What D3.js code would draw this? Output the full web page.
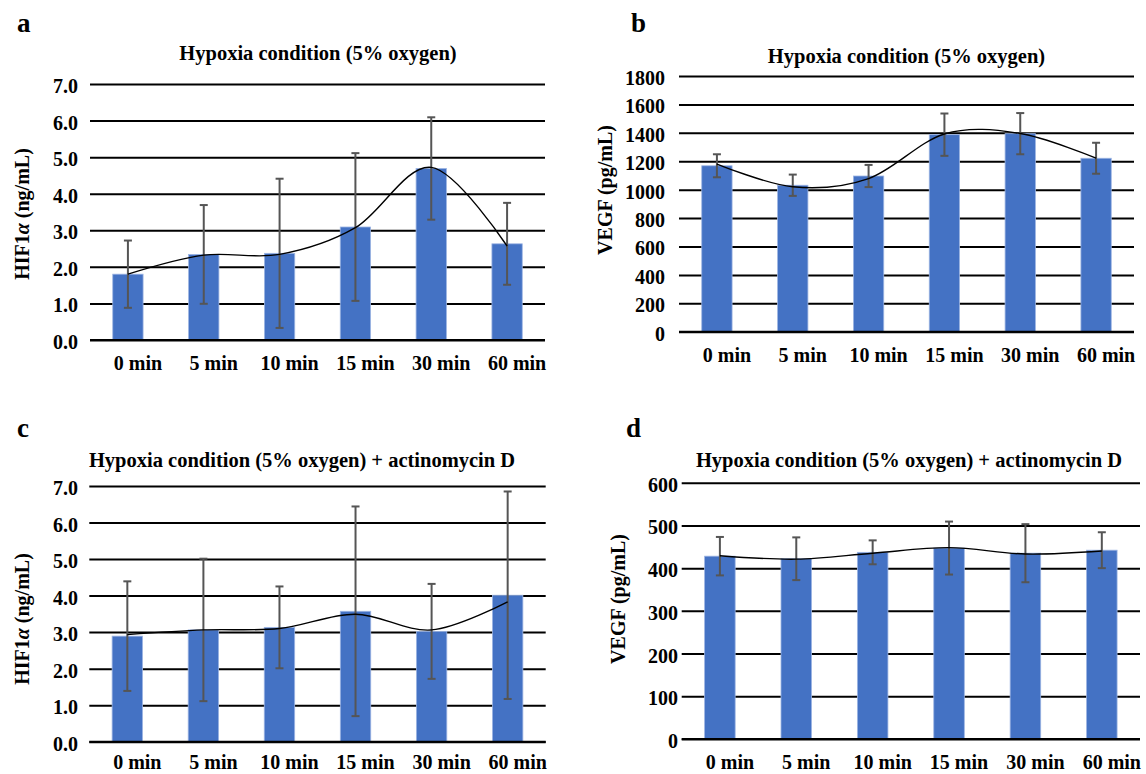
<!DOCTYPE html>
<html>
<head>
<meta charset="utf-8">
<script src="https://cdn.jsdelivr.net/npm/d3@7"></script>
<style>
  html, body { margin: 0; padding: 0; background: #fff; }
  svg text { font-family: "Liberation Serif", "Times New Roman", serif; font-weight: bold; fill: #000; }
</style>
</head>
<body>
<svg id="chart" width="1146" height="774"></svg>
<script>
// ---------- data ----------
const categories = ["0 min", "5 min", "10 min", "15 min", "30 min", "60 min"];

const hifHypoxia     = [1.80, 2.34, 2.37, 3.09, 4.69, 2.63];
const hifHypoxiaErr  = [0.92, 1.35, 2.04, 2.02, 1.40, 1.12];
const hifHypoxiaLine = [1.80, 2.32, 2.34, 3.07, 4.72, 2.57];

const vegfHypoxia     = [1168, 1031, 1096, 1387, 1394, 1221];
const vegfHypoxiaErr  = [81, 75, 78, 149, 145, 109];
const vegfHypoxiaLine = [1180, 1020, 1078, 1392, 1395, 1222];

const hifActD     = [2.89, 3.06, 3.13, 3.57, 3.02, 4.01];
const hifActDErr  = [1.50, 1.95, 1.12, 2.87, 1.30, 2.84];
const hifActDLine = [2.93, 3.06, 3.10, 3.49, 3.06, 3.83];

const vegfActD     = [428, 422, 437, 447, 435, 442];
const vegfActDErr  = [45, 50, 28, 62, 68, 42];
const vegfActDLine = [429, 421, 435, 448, 433, 440];

const hifTicks   = [0, 1, 2, 3, 4, 5, 6, 7];
const vegfTicksB = [0, 200, 400, 600, 800, 1000, 1200, 1400, 1600, 1800];
const vegfTicksD = [0, 100, 200, 300, 400, 500, 600];

const titleHypoxia = "Hypoxia condition (5% oxygen)";
const titleActD = "Hypoxia condition (5% oxygen) + actinomycin D";

// ---------- layout ----------
const panels = [
  { letter: "a", values: hifHypoxia, errs: hifHypoxiaErr, line: hifHypoxiaLine, ticks: hifTicks, fmt: d3.format(".1f"),
    title: titleHypoxia, yLabel: "hif",
    left: 90, right: 545, top: 84, bottom: 340, tickRight: 78,
    titleX: 318, titleY: 60, yTitleX: 22, yTitleY: 214, letterX: 17, letterY: 32, xLabelY: 370 },
  { letter: "b", values: vegfHypoxia, errs: vegfHypoxiaErr, line: vegfHypoxiaLine, ticks: vegfTicksB, fmt: d3.format("d"),
    title: titleHypoxia, yLabel: "vegf",
    left: 679, right: 1134, top: 76, bottom: 331.7, tickRight: 665,
    titleX: 906.5, titleY: 63, yTitleX: 605, yTitleY: 190, letterX: 631, letterY: 32, xLabelY: 362 },
  { letter: "c", values: hifActD, errs: hifActDErr, line: hifActDLine, ticks: hifTicks, fmt: d3.format(".1f"),
    title: titleActD, yLabel: "hif",
    left: 89.3, right: 545.7, top: 486, bottom: 741.7, tickRight: 78,
    titleX: 302, titleY: 466.7, yTitleX: 22, yTitleY: 619, letterX: 17, letterY: 437, xLabelY: 769 },
  { letter: "d", values: vegfActD, errs: vegfActDErr, line: vegfActDLine, ticks: vegfTicksD, fmt: d3.format("d"),
    title: titleActD, yLabel: "vegf",
    left: 681.7, right: 1140, top: 482.7, bottom: 739, tickRight: 678,
    titleX: 909, titleY: 466.7, yTitleX: 618, yTitleY: 599, letterX: 626, letterY: 437, xLabelY: 769 }
];

const svg = d3.select("#chart");
const FS = 20;

panels.forEach(p => {
  const g = svg.append("g");
  const x = d3.scaleBand().domain(categories).range([p.left, p.right]).paddingInner(0.6).paddingOuter(0.3);
  const yMax = p.ticks[p.ticks.length - 1];
  const y = d3.scaleLinear().domain([0, yMax]).range([p.bottom, p.top]);

  // grid lines (via axis)
  const gridAxis = d3.axisLeft(y).tickValues(p.ticks).tickSize(-(p.right - p.left)).tickFormat("");
  const gg = g.append("g").attr("transform", `translate(${p.left},0)`).call(gridAxis);
  gg.select(".domain").remove();
  gg.selectAll(".tick line").attr("stroke", "#000").attr("stroke-width", 2);

  // tick labels
  g.selectAll(".ylab").data(p.ticks).enter().append("text")
    .attr("x", p.tickRight).attr("y", d => y(d) + 9)
    .attr("text-anchor", "end").attr("font-size", FS)
    .text(d => p.fmt(d));

  // bars
  g.selectAll(".bar").data(p.values).enter().append("rect")
    .attr("x", (d, i) => x(categories[i]))
    .attr("width", x.bandwidth())
    .attr("y", d => y(d))
    .attr("height", d => y(0) - y(d))
    .attr("fill", "#4472C4")
    .attr("stroke", "#9db5e3").attr("stroke-width", 0.8);

  // redraw zero line on top
  g.append("line").attr("x1", p.left).attr("x2", p.right)
    .attr("y1", y(0)).attr("y2", y(0)).attr("stroke", "#000").attr("stroke-width", 2);

  // error bars
  const cx = i => x(categories[i]) + x.bandwidth() / 2;
  const eb = g.selectAll(".err").data(p.values).enter().append("g");
  eb.append("line").attr("x1", (d, i) => cx(i)).attr("x2", (d, i) => cx(i))
    .attr("y1", (d, i) => y(d + p.errs[i])).attr("y2", (d, i) => y(d - p.errs[i]))
    .attr("stroke", "#555").attr("stroke-width", 2);
  [1, -1].forEach(s => {
    eb.append("line").attr("x1", (d, i) => cx(i) - 4).attr("x2", (d, i) => cx(i) + 4)
      .attr("y1", (d, i) => y(d + s * p.errs[i])).attr("y2", (d, i) => y(d + s * p.errs[i]))
      .attr("stroke", "#555").attr("stroke-width", 2);
  });

  // smooth line
  const lineGen = d3.line().x((d, i) => cx(i)).y(d => y(d)).curve(d3.curveCardinal.tension(0));
  g.append("path").datum(p.line).attr("d", lineGen)
    .attr("fill", "none").attr("stroke", "#000").attr("stroke-width", 1.4);

  // x labels
  g.selectAll(".xlab").data(categories).enter().append("text")
    .attr("x", d => x(d) + x.bandwidth() / 2 + 10).attr("y", p.xLabelY)
    .attr("text-anchor", "middle").attr("font-size", FS)
    .text(d => d);

  // title
  g.append("text").attr("x", p.titleX).attr("y", p.titleY)
    .attr("text-anchor", "middle").attr("font-size", 20.5).text(p.title);

  // panel letter
  g.append("text").attr("x", p.letterX).attr("y", p.letterY)
    .attr("font-size", 27).text(p.letter);

  // y axis title
  const yt = g.append("text")
    .attr("transform", `translate(${p.yTitleX},${p.yTitleY}) rotate(-90)`)
    .attr("text-anchor", "middle").attr("dominant-baseline", "central")
    .attr("font-size", FS);
  if (p.yLabel === "hif") {
    yt.append("tspan").text("HIF1");
    yt.append("tspan").attr("font-style", "italic").text("α");
    yt.append("tspan").text(" (ng/mL)");
  } else {
    yt.text("VEGF (pg/mL)");
  }
});
</script>
</body>
</html>
